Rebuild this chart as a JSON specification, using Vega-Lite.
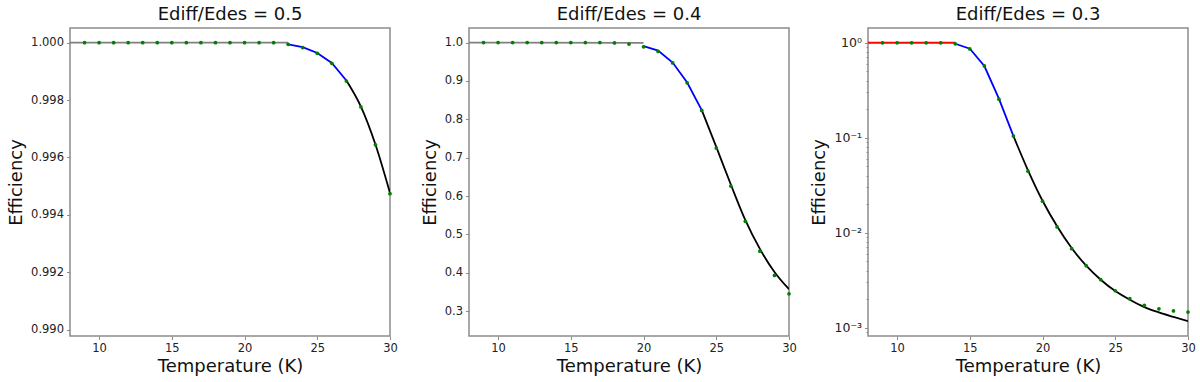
{
  "$schema": "https://vega.github.io/schema/vega-lite/v6.json",
  "padding": {"left": 6, "top": 5, "right": 5, "bottom": 5},
  "config": {
    "font": "DejaVu Sans",
    "view": {"stroke": "#8c8c8c", "strokeWidth": 1.5},
    "axis": {
      "grid": false, "domain": false, "tickColor": "#8c8c8c", "tickSize": 3.5, "tickWidth": 1,
      "labelFontSize": 11.5, "labelColor": "#222", "labelPadding": 3, "labelFlush": false,
      "titleFontSize": 18, "titleFontWeight": "normal", "titleColor": "#111", "labelOverlap": false
    },
    "title": {"fontSize": 18, "fontWeight": "normal", "color": "#111", "offset": 4}
  },
  "datasets": {
    "p1": [
      {"T": 8, "v": 1.0, "s": "flat"}, {"T": 23, "v": 1.0, "s": "flat"},
      {"T": 23, "v": 0.99994, "s": "mid"}, {"T": 24, "v": 0.99984, "s": "mid"}, {"T": 25, "v": 0.99964, "s": "mid"}, {"T": 26, "v": 0.99929, "s": "mid"}, {"T": 27, "v": 0.99868, "s": "mid"},
      {"T": 27, "v": 0.99868, "s": "fit"}, {"T": 28, "v": 0.99777, "s": "fit"}, {"T": 29, "v": 0.99645, "s": "fit"}, {"T": 30, "v": 0.99476, "s": "fit"},
      {"T": 9, "v": 1.0, "s": "obs"}, {"T": 10, "v": 1.0, "s": "obs"}, {"T": 11, "v": 1.0, "s": "obs"}, {"T": 12, "v": 1.0, "s": "obs"}, {"T": 13, "v": 1.0, "s": "obs"}, {"T": 14, "v": 1.0, "s": "obs"}, {"T": 15, "v": 1.0, "s": "obs"}, {"T": 16, "v": 1.0, "s": "obs"}, {"T": 17, "v": 1.0, "s": "obs"}, {"T": 18, "v": 1.0, "s": "obs"}, {"T": 19, "v": 1.0, "s": "obs"}, {"T": 20, "v": 1.0, "s": "obs"}, {"T": 21, "v": 1.0, "s": "obs"}, {"T": 22, "v": 1.0, "s": "obs"},
      {"T": 23, "v": 0.99994, "s": "obs"}, {"T": 24, "v": 0.99983, "s": "obs"}, {"T": 25, "v": 0.99963, "s": "obs"}, {"T": 26, "v": 0.99928, "s": "obs"}, {"T": 27, "v": 0.99866, "s": "obs"}, {"T": 28, "v": 0.99776, "s": "obs"}, {"T": 29, "v": 0.99644, "s": "obs"}, {"T": 30, "v": 0.99474, "s": "obs"}
    ],
    "p2": [
      {"T": 8, "v": 1.0, "s": "flat"}, {"T": 20, "v": 0.999, "s": "flat"},
      {"T": 20, "v": 0.991, "s": "mid"}, {"T": 21, "v": 0.979, "s": "mid"}, {"T": 22, "v": 0.948, "s": "mid"}, {"T": 23, "v": 0.896, "s": "mid"}, {"T": 24, "v": 0.824, "s": "mid"},
      {"T": 24, "v": 0.824, "s": "fit"}, {"T": 25, "v": 0.728, "s": "fit"}, {"T": 26, "v": 0.63, "s": "fit"}, {"T": 27, "v": 0.537, "s": "fit"}, {"T": 28, "v": 0.462, "s": "fit"}, {"T": 29, "v": 0.402, "s": "fit"}, {"T": 30, "v": 0.357, "s": "fit"},
      {"T": 9, "v": 1.0, "s": "obs"}, {"T": 10, "v": 1.0, "s": "obs"}, {"T": 11, "v": 1.0, "s": "obs"}, {"T": 12, "v": 1.0, "s": "obs"}, {"T": 13, "v": 1.0, "s": "obs"}, {"T": 14, "v": 1.0, "s": "obs"}, {"T": 15, "v": 1.0, "s": "obs"}, {"T": 16, "v": 1.0, "s": "obs"}, {"T": 17, "v": 1.0, "s": "obs"}, {"T": 18, "v": 0.999, "s": "obs"}, {"T": 19, "v": 0.996, "s": "obs"},
      {"T": 20, "v": 0.989, "s": "obs"}, {"T": 21, "v": 0.977, "s": "obs"}, {"T": 22, "v": 0.947, "s": "obs"}, {"T": 23, "v": 0.895, "s": "obs"}, {"T": 24, "v": 0.823, "s": "obs"}, {"T": 25, "v": 0.725, "s": "obs"}, {"T": 26, "v": 0.626, "s": "obs"}, {"T": 27, "v": 0.534, "s": "obs"}, {"T": 28, "v": 0.456, "s": "obs"}, {"T": 29, "v": 0.393, "s": "obs"}, {"T": 30, "v": 0.345, "s": "obs"}
    ],
    "p3": [
      {"T": 8, "v": 1.0, "s": "flat"}, {"T": 14, "v": 1.0, "s": "flat"},
      {"T": 14, "v": 0.976, "s": "mid"}, {"T": 15, "v": 0.865, "s": "mid"}, {"T": 16, "v": 0.569, "s": "mid"}, {"T": 17, "v": 0.258, "s": "mid"}, {"T": 18, "v": 0.104, "s": "mid"},
      {"T": 18, "v": 0.104, "s": "fit"}, {"T": 19, "v": 0.0454, "s": "fit"}, {"T": 20, "v": 0.0217, "s": "fit"}, {"T": 21, "v": 0.0117, "s": "fit"}, {"T": 22, "v": 0.0069, "s": "fit"}, {"T": 23, "v": 0.0045, "s": "fit"}, {"T": 24, "v": 0.0032, "s": "fit"}, {"T": 25, "v": 0.00243, "s": "fit"}, {"T": 26, "v": 0.00197, "s": "fit"}, {"T": 27, "v": 0.00165, "s": "fit"}, {"T": 28, "v": 0.00145, "s": "fit"}, {"T": 29, "v": 0.0013, "s": "fit"}, {"T": 30, "v": 0.00117, "s": "fit"},
      {"T": 9, "v": 1.0, "s": "obs"}, {"T": 10, "v": 1.0, "s": "obs"}, {"T": 11, "v": 1.0, "s": "obs"}, {"T": 12, "v": 1.0, "s": "obs"}, {"T": 13, "v": 1.0, "s": "obs"},
      {"T": 14, "v": 0.976, "s": "obs"}, {"T": 15, "v": 0.86, "s": "obs"}, {"T": 16, "v": 0.57, "s": "obs"}, {"T": 17, "v": 0.255, "s": "obs"}, {"T": 18, "v": 0.104, "s": "obs"}, {"T": 19, "v": 0.0445, "s": "obs"}, {"T": 20, "v": 0.0215, "s": "obs"}, {"T": 21, "v": 0.0115, "s": "obs"}, {"T": 22, "v": 0.0068, "s": "obs"}, {"T": 23, "v": 0.0045, "s": "obs"}, {"T": 24, "v": 0.0032, "s": "obs"}, {"T": 25, "v": 0.00245, "s": "obs"}, {"T": 26, "v": 0.00202, "s": "obs"}, {"T": 27, "v": 0.00172, "s": "obs"}, {"T": 28, "v": 0.00158, "s": "obs"}, {"T": 29, "v": 0.0015, "s": "obs"}, {"T": 30, "v": 0.00146, "s": "obs"}
    ]
  },
  "bounds": "flush",
  "spacing": 79,
  "hconcat": [
    {
      "width": 320, "height": 308,
      "title": "Ediff/Edes = 0.5",
      "data": {"name": "p1"},
      "encoding": {
        "x": {"field": "T", "type": "quantitative", "scale": {"domain": [8, 30], "nice": false}, "axis": {"values": [10, 15, 20, 25, 30], "title": "Temperature (K)", "titlePadding": 3}},
        "y": {"field": "v", "type": "quantitative", "scale": {"domain": [0.98978, 1.00051], "nice": false, "zero": false}, "axis": {"values": [0.99, 0.992, 0.994, 0.996, 0.998, 1.0], "format": ".3f", "title": "Efficiency", "titlePadding": 5}}
      },
      "layer": [
        {"transform": [{"filter": "datum.s == 'flat'"}], "mark": {"type": "line", "color": "#808080", "strokeWidth": 1.8, "clip": true}},
        {"transform": [{"filter": "datum.s == 'mid'"}], "mark": {"type": "line", "color": "#0000ff", "strokeWidth": 1.8, "clip": true}},
        {"transform": [{"filter": "datum.s == 'fit'"}], "mark": {"type": "line", "color": "#000000", "strokeWidth": 1.8, "interpolate": "monotone", "clip": true}},
        {"transform": [{"filter": "datum.s == 'obs'"}], "mark": {"type": "circle", "color": "#008000", "size": 14, "opacity": 1, "clip": false}}
      ]
    },
    {
      "width": 320, "height": 308,
      "title": "Ediff/Edes = 0.4",
      "data": {"name": "p2"},
      "encoding": {
        "x": {"field": "T", "type": "quantitative", "scale": {"domain": [8, 30], "nice": false}, "axis": {"values": [10, 15, 20, 25, 30], "title": "Temperature (K)", "titlePadding": 3}},
        "y": {"field": "v", "type": "quantitative", "scale": {"domain": [0.235, 1.038], "nice": false, "zero": false}, "axis": {"values": [0.3, 0.4, 0.5, 0.6, 0.7, 0.8, 0.9, 1.0], "format": ".1f", "title": "Efficiency", "titlePadding": 5}}
      },
      "layer": [
        {"transform": [{"filter": "datum.s == 'flat'"}], "mark": {"type": "line", "color": "#808080", "strokeWidth": 1.8, "clip": true}},
        {"transform": [{"filter": "datum.s == 'mid'"}], "mark": {"type": "line", "color": "#0000ff", "strokeWidth": 1.8, "clip": true}},
        {"transform": [{"filter": "datum.s == 'fit'"}], "mark": {"type": "line", "color": "#000000", "strokeWidth": 1.8, "interpolate": "monotone", "clip": true}},
        {"transform": [{"filter": "datum.s == 'obs'"}], "mark": {"type": "circle", "color": "#008000", "size": 14, "opacity": 1, "clip": false}}
      ]
    },
    {
      "width": 320, "height": 308,
      "title": "Ediff/Edes = 0.3",
      "data": {"name": "p3"},
      "encoding": {
        "x": {"field": "T", "type": "quantitative", "scale": {"domain": [8, 30], "nice": false}, "axis": {"values": [10, 15, 20, 25, 30], "title": "Temperature (K)", "titlePadding": 3}},
        "y": {"field": "v", "type": "quantitative", "scale": {"type": "log", "domain": [0.000818, 1.43], "nice": false},
          "axis": {
            "values": [0.0009, 0.001, 0.002, 0.003, 0.004, 0.005, 0.006, 0.007, 0.008, 0.009, 0.01, 0.02, 0.03, 0.04, 0.05, 0.06, 0.07, 0.08, 0.09, 0.1, 0.2, 0.3, 0.4, 0.5, 0.6, 0.7, 0.8, 0.9, 1],
            "labelExpr": "abs(log(datum.value)/LN10 - round(log(datum.value)/LN10)) < 0.01 ? (round(log(datum.value)/LN10) == 0 ? '10⁰' : round(log(datum.value)/LN10) == -1 ? '10⁻¹' : round(log(datum.value)/LN10) == -2 ? '10⁻²' : '10⁻³') : ''",
            "tickSize": {"condition": {"test": "abs(log(datum.value)/LN10 - round(log(datum.value)/LN10)) < 0.01", "value": 3.5}, "value": 2},
            "labelFontSize": 12.5,
            "title": "Efficiency", "titlePadding": 5}}
      },
      "layer": [
        {"transform": [{"filter": "datum.s == 'flat'"}], "mark": {"type": "line", "color": "#ff0000", "strokeWidth": 1.8, "clip": true}},
        {"transform": [{"filter": "datum.s == 'mid'"}], "mark": {"type": "line", "color": "#0000ff", "strokeWidth": 1.8, "clip": true}},
        {"transform": [{"filter": "datum.s == 'fit'"}], "mark": {"type": "line", "color": "#000000", "strokeWidth": 1.8, "interpolate": "monotone", "clip": true}},
        {"transform": [{"filter": "datum.s == 'obs'"}], "mark": {"type": "circle", "color": "#008000", "size": 14, "opacity": 1, "clip": false}}
      ]
    }
  ]
}
